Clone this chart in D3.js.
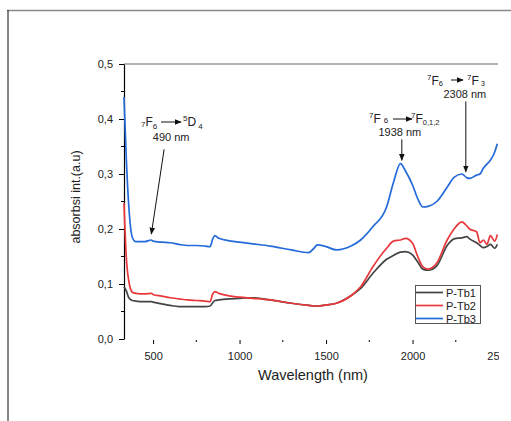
<!DOCTYPE html>
<html>
<head>
<meta charset="utf-8">
<script src="https://cdn.jsdelivr.net/npm/d3@7"></script>
<style>
  body { margin: 0; background: #fff; }
  svg { display: block; font-family: "Liberation Sans", Arial, sans-serif; }
  .axis text { font-size: 11px; fill: #222; }
  .axis path, .axis line { stroke: #000; }
</style>
</head>
<body>
<svg id="chart" width="511" height="421"></svg>
<script>
// wavelength (nm), shared by the three series
const wavelength = [332, 345, 360, 380, 400, 450, 490, 500, 550, 600, 650, 700, 750, 800, 830, 845, 858, 880,
  950, 1000, 1076, 1176, 1300, 1400, 1430, 1450, 1500, 1560, 1650, 1700, 1770, 1850, 1890, 1930, 1960, 2000,
  2030, 2060, 2090, 2140, 2200, 2240, 2285, 2315, 2330, 2370, 2390, 2410, 2430, 2450, 2475, 2490];

const tb1 = [0.095, 0.088, 0.075, 0.070, 0.069, 0.068, 0.068, 0.067, 0.064, 0.061, 0.059, 0.059, 0.059, 0.059, 0.060, 0.066, 0.070, 0.071,
  0.073, 0.074, 0.075, 0.071, 0.065, 0.061, 0.060, 0.060, 0.062, 0.065, 0.080, 0.092, 0.119, 0.145, 0.152, 0.158, 0.159, 0.153,
  0.140, 0.127, 0.125, 0.133, 0.170, 0.182, 0.184, 0.186, 0.182, 0.175, 0.170, 0.166, 0.168, 0.172, 0.165, 0.172];

const tb2 = [0.247, 0.150, 0.105, 0.085, 0.083, 0.082, 0.083, 0.081, 0.078, 0.075, 0.073, 0.071, 0.070, 0.069, 0.068, 0.082, 0.086, 0.083,
  0.078, 0.076, 0.074, 0.071, 0.065, 0.061, 0.060, 0.060, 0.062, 0.065, 0.080, 0.095, 0.131, 0.165, 0.178, 0.180, 0.183, 0.174,
  0.150, 0.131, 0.127, 0.138, 0.180, 0.200, 0.213, 0.205, 0.200, 0.195, 0.175, 0.180, 0.172, 0.188, 0.178, 0.190];

const tb3 = [0.440, 0.330, 0.240, 0.185, 0.177, 0.177, 0.180, 0.178, 0.176, 0.175, 0.172, 0.170, 0.170, 0.169, 0.168, 0.182, 0.188, 0.183,
  0.178, 0.176, 0.173, 0.169, 0.162, 0.157, 0.165, 0.171, 0.168, 0.162, 0.170, 0.180, 0.204, 0.240, 0.285, 0.319, 0.305, 0.280,
  0.255, 0.240, 0.241, 0.250, 0.276, 0.294, 0.300, 0.293, 0.292, 0.298, 0.300, 0.311, 0.318, 0.325, 0.340, 0.355];

const seriesNames = ["P-Tb1", "P-Tb2", "P-Tb3"];
const seriesColors = ["#444444", "#e8383b", "#246ad8"];
const seriesValues = [tb1, tb2, tb3];

const yTicks = [0, 0.1, 0.2, 0.3, 0.4, 0.5];
const yMinor = [0.05, 0.15, 0.25, 0.35, 0.45];
const xTicks = [500, 1000, 1500, 2000, 2500];
const xMinor = [750, 1250, 1750, 2250];

// peak annotations: wavelength, value at arrow tip, value at arrow tail
const peakWl = [490, 1938, 2308];
const peakTip = [0.191, 0.325, 0.304];
const peakTail = [0.345, 0.363, 0.432];
const peakTailWl = [564, 1938, 2308];
const peakNm = ["490 nm", "1938 nm", "2308 nm"];

const svg = d3.select("#chart");
const margin = {left: 124, top: 64, right: 498, bottom: 339};

const x = d3.scaleLinear().domain([332, 2494]).range([margin.left, margin.right]);
const y = d3.scaleLinear().domain([0, 0.5]).range([margin.bottom, margin.top]);

// page frame (document table border)
svg.append("line").attr("x1", 7).attr("x2", 511).attr("y1", 10.5).attr("y2", 10.5)
  .attr("stroke", "#8a8a8a").attr("stroke-width", 1.5);
svg.append("line").attr("x1", 8).attr("x2", 8).attr("y1", 10).attr("y2", 421)
  .attr("stroke", "#111").attr("stroke-width", 1);

svg.append("defs").append("clipPath").attr("id", "cut")
  .append("rect").attr("x", 0).attr("y", 0).attr("width", 499).attr("height", 421);
svg.append("defs").append("marker")
  .attr("id", "head").attr("viewBox", "0 0 10 10").attr("refX", 9).attr("refY", 5)
  .attr("markerWidth", 7).attr("markerHeight", 7).attr("orient", "auto-start-reverse")
  .attr("markerUnits", "userSpaceOnUse")
  .append("path").attr("d", "M0,1 L10,5 L0,9 Z").attr("fill", "#111");

const g = svg.append("g").attr("clip-path", "url(#cut)");

// top frame line
g.append("line").attr("x1", margin.left).attr("x2", margin.right)
  .attr("y1", margin.top).attr("y2", margin.top)
  .attr("stroke", "#9a9a9a").attr("stroke-width", 1.5);

// y axis
const yAxis = g.append("g").attr("class", "axis")
  .attr("transform", `translate(${margin.left},0)`)
  .call(d3.axisLeft(y).tickValues(yTicks).tickSize(5).tickSizeOuter(0).tickPadding(6)
    .tickFormat(d => d3.format(".1f")(d).replace(".", ",")));
yAxis.selectAll(".domain").attr("stroke-width", 1.2);
g.append("g").selectAll("line").data(yMinor).join("line")
  .attr("x1", margin.left - 3).attr("x2", margin.left)
  .attr("y1", d => y(d)).attr("y2", d => y(d)).attr("stroke", "#000");

// x axis (ticks only, no line)
const xAxis = g.append("g").attr("class", "axis")
  .attr("transform", `translate(0,${margin.bottom + 1})`)
  .call(d3.axisBottom(x).tickValues(xTicks).tickSize(4).tickPadding(8).tickFormat(d3.format("d")));
xAxis.select(".domain").remove();
g.append("g").selectAll("line").data(xMinor).join("line")
  .attr("x1", d => x(d)).attr("x2", d => x(d))
  .attr("y1", margin.bottom + 1).attr("y2", margin.bottom + 3).attr("stroke", "#000");

// axis titles
svg.append("text").attr("x", 313).attr("y", 380).attr("text-anchor", "middle")
  .attr("font-size", 14.5).attr("fill", "#222").text("Wavelength (nm)");
svg.append("text").attr("transform", "translate(80,197) rotate(-90)").attr("text-anchor", "middle")
  .attr("font-size", 12.5).attr("fill", "#222").text("absorbsi int.(a.u)");

// spectra
const line = d3.line().x((d, i) => x(wavelength[i])).y(d => y(d)).curve(d3.curveMonotoneX);
g.append("g").selectAll("path").data(seriesValues).join("path")
  .attr("d", d => line(d)).attr("fill", "none")
  .attr("stroke", (d, i) => seriesColors[i]).attr("stroke-width", 1.7);

// annotation arrows
g.append("g").selectAll("line").data(peakWl).join("line")
  .attr("x1", (d, i) => x(peakTailWl[i])).attr("y1", (d, i) => y(peakTail[i]))
  .attr("x2", d => x(d)).attr("y2", (d, i) => y(peakTip[i]))
  .attr("stroke", "#111").attr("stroke-width", 1).attr("marker-end", "url(#head)");

const ann = svg.append("g").attr("fill", "#222");

function smallArrow(x1, x2, yy) {
  ann.append("line").attr("x1", x1).attr("x2", x2).attr("y1", yy).attr("y2", yy)
    .attr("stroke", "#111").attr("stroke-width", 1).attr("marker-end", "url(#head)");
}

// 490 nm
const t1 = ann.append("text").attr("x", 141).attr("y", 126).attr("font-size", 12);
t1.append("tspan").attr("font-size", 8).attr("dy", 1).text("7");
t1.append("tspan").attr("dy", -1).text("F");
t1.append("tspan").attr("font-size", 8).attr("dy", 3).text("6");
smallArrow(161, 181, 122);
const t1b = ann.append("text").attr("x", 183).attr("y", 126).attr("font-size", 12);
t1b.append("tspan").attr("font-size", 8).attr("dy", -5).text("5");
t1b.append("tspan").attr("dy", 5).text("D");
t1b.append("tspan").attr("font-size", 8).attr("dy", 3).attr("dx", 2).text("4");
ann.append("text").attr("x", x(peakTailWl[0]) + 7).attr("y", 141).attr("text-anchor", "middle")
  .attr("font-size", 11).text(peakNm[0]);

// 1938 nm
const t2 = ann.append("text").attr("x", 369).attr("y", 123).attr("font-size", 12);
t2.append("tspan").attr("font-size", 8).attr("dy", -5).text("7");
t2.append("tspan").attr("dy", 5).text("F");
t2.append("tspan").attr("font-size", 8).attr("dy", 0).attr("dx", 3).text("6");
smallArrow(393, 412, 119);
const t2b = ann.append("text").attr("x", 411).attr("y", 123).attr("font-size", 12);
t2b.append("tspan").attr("font-size", 8).attr("dy", -5).text("7");
t2b.append("tspan").attr("dy", 5).text("F");
t2b.append("tspan").attr("font-size", 7.5).attr("dy", 2).text("0,1,2");
ann.append("text").attr("x", x(peakWl[1]) - 2).attr("y", 136).attr("text-anchor", "middle")
  .attr("font-size", 11).text(peakNm[1]);

// 2308 nm
const t3 = ann.append("text").attr("x", 427).attr("y", 85).attr("font-size", 12);
t3.append("tspan").attr("font-size", 8).attr("dy", -5).text("7");
t3.append("tspan").attr("dy", 5).text("F");
t3.append("tspan").attr("font-size", 7.5).attr("dy", 1).text("6");
smallArrow(451, 463, 80);
const t3b = ann.append("text").attr("x", 467).attr("y", 85).attr("font-size", 12);
t3b.append("tspan").attr("font-size", 8).attr("dy", -5).text("7");
t3b.append("tspan").attr("dy", 5).text("F");
t3b.append("tspan").attr("font-size", 7.5).attr("dy", 1).attr("dx", 2).text("3");
ann.append("text").attr("x", x(peakWl[2]) - 1).attr("y", 98).attr("text-anchor", "middle")
  .attr("font-size", 11).text(peakNm[2]);

// legend
const legend = svg.append("g");
legend.append("rect").attr("x", 415.5).attr("y", 285.5).attr("width", 65).attr("height", 38)
  .attr("fill", "#fff").attr("stroke", "#555").attr("stroke-width", 1);
const rows = legend.selectAll("g").data(seriesNames).join("g")
  .attr("transform", (d, i) => `translate(0,${292.5 + i * 13})`);
rows.append("line").attr("x1", 416).attr("x2", 443).attr("y1", 0).attr("y2", 0)
  .attr("stroke", (d, i) => seriesColors[i]).attr("stroke-width", 1.7);
rows.append("text").attr("x", 446).attr("y", 4).attr("font-size", 11).attr("fill", "#222").text(d => d);
</script>
</body>
</html>
